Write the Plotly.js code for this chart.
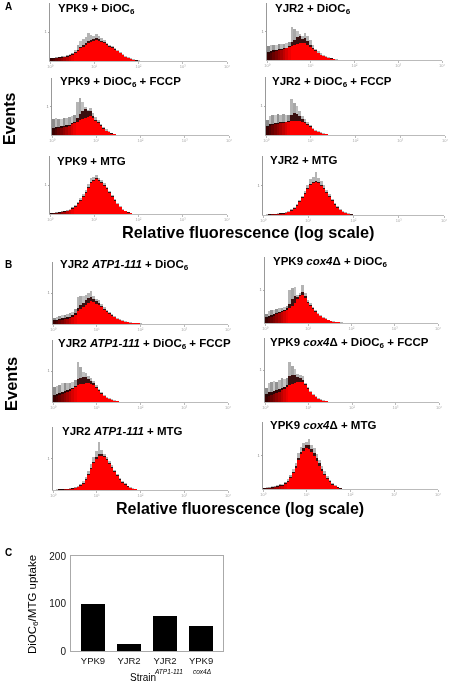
<!DOCTYPE html>
<html>
<head>
<meta charset="utf-8">
<script src="https://cdn.plot.ly/plotly-3.0.1.min.js"></script>
<style>html,body{margin:0;padding:0;background:#fff}#chart{width:454px;height:683px;filter:blur(0.45px)}</style>
</head>
<body>
<div id="chart"></div>
<script>
// ---------- Data: histogram heights per fluorescence bin ----------
const binWidth = 0.06; // decades
const a1Gray=[3,3,4,4,5,5,6,7,8,11,16,20,22,24,28,26,25,27,25,23,21,18,16,15,13,11,9,7,5,4,3,2,1,1,.5];
const a1Dark=[3,3,3,4,4,4,5,6,7,9,11,14,16,18,20,21,22,23,22,20,19,17,15,14,12,10.5,8.5,6.5,4.5,3,2,1.5,1,.5];
const a1Red=[2,2,3,3,3,4,4,5,6,8,10,13,14,16,18,19,20,21,20,19,18,16,14,13,11,10,8,6,4,3,2,1,.5];
const a2Gray=[14,15,15,15,16,16,16,17,18,33,31,29,26,24,27,24,20,15,11,9,7,5,4,3,2,1,1,.5];
const a2Dark=[8,9,10,10,11,11,12,12,14,18,20,23,24,21,22,19,15,12,10,7.5,5.5,4.5,3.5,2.5,2,1,.5];
const a2Red=[6,7,8,9,10,10,11,12,13,14,15,16,17,17,17,15,13,11,9,7,5,4,3,2,1.5,1,.5];
const a3Gray=[16,17,16,16,17,17,18,19,20,33,37,33,28,25,27,22,18,15,11,8,6,4,2,1,.5];
const a3Dark=[7,8,8,9,9,10,10,12,13,17,21,24,26,24,24,19,15,13,10,7,4.5,3,2,1,.5];
const a3Red=[5,6,7,7,8,8,9,11,12,13,15,16,17,18,19,17,14,12,9,6,4,3,1.5,1,.5];
const a4Gray=[15,19,20,20,21,20,21,20,20,36,32,29,24,19,16,13,10,7,5,4,3,2,1,.5];
const a4Dark=[9,11,11,12,12,13,13,13,14,20,22,21,19,16,13,11,9,6,4,3,2,1.5,1,.5];
const a4Red=[8,9,10,11,11,12,12,13,13,14,14,14,14,13,12,10,8,6,4,3,2,1.5,1,.5];
const a5Gray=[1,1.5,2,2,3,3,4,5,7,9,12,16,20,24,30,36,37,39,36,34,31,27,23,19,15,11,8,5,3,2,1,.5];
const a5Dark=[1,1,1.5,2,2.5,3,3.5,4.5,6,8,11,14,18,22,27,32,34,36,34,32,29,26,22,18,14,10.5,7.5,4.5,3,2,1,.5];
const a5Red=[.5,1,1,1.5,2,2,3,4,5,7,10,13,17,21,26,31,33,35,33,31,28,25,21,17,13,10,7,4,3,1.5,1,.5];
const a6Gray=[.5,1,1,1,1.5,2,2,2,3,4,6,8,11,15,19,24,30,36,38,43,37,34,30,25,21,16,12,9,6,4,3,2,1,.5];
const a6Dark=[.5,.5,1,1,1,1.5,2,2,2.5,3.5,5,7,10,14,18,22,27,31,33,34,33,30,27,23,19,15,11,8,5.5,3.5,2.5,1.5,1,.5];
const a6Red=[.3,.5,.5,1,1,1,1.5,1.5,2,3,4,6,9,13,17,21,26,30,32,33,32,29,26,22,18,14,10,7,5,3,2,1,.5];
const b1Gray=[6,7,8,9,9,10,11,12,15,27,28,28,29,31,33,28,25,24,20,17,14,12,10,8,6,5,4,3,2.5,2,1.5,1.5,1,1,.5,.5,.5,.3];
const b1Dark=[4,4,5,6,6,7,7,9,11,16,19,21,24,26,27,25,23,21,18,15,13,11,9,7,5.5,4.5,3.5,2.5,2,1.5,1,1,1,.5,.5,.3];
const b1Red=[3,3,4,4,5,5,6,7,9,13,15,17,19,21,23,22,20,19,17,14,12,10,8,7,5,4,3,2.5,2,1.5,1,1,1,.5,.5,.3,.3,.2];
const b2Gray=[9,12,13,13,14,15,15,16,17,33,35,36,28,30,38,30,23,20,16,13,10,8,6,5,3,2.5,2,1.5,1,1,.5,.5,.3];
const b2Dark=[6,7,8,9,10,11,12,13,15,19,24,27,26,28,31,27,21,18,15,12,9,7,5,4,3,2,1.5,1,1,.5,.5];
const b2Red=[4,5,6,7,9,10,11,12,13,15,17,20,24,27,28,25,20,17,14,11,9,7,5,4,3,2,1.5,1,1,.5,.5,.3,.2];
const b3Gray=[15,16,17,19,19,19,19,20,22,40,35,30,29,26,24,21,17,13,10,7,5,4,3,2,1,.5,.3];
const b3Dark=[7,8,9,10,11,12,13,14,16,23,24,25,25,23,21,19,15,12,9,6.5,4.5,3.5,2.5,1.5,1,.5];
const b3Red=[5,6,7,8,9,10,11,13,15,17,18,18,19,19,18,17,14,11,8,6,4,3,2,1.5,1,.5,.2];
const b4Gray=[14,19,20,21,20,22,24,23,24,40,36,33,28,27,26,19,15,11,8,6,4,3,2,1,.5,.3];
const b4Dark=[8,10,10,11,12,13,14,15,17,26,27,27,25,24,22,18,14,10,7.5,5.5,3.5,2.5,1.5,1,.5];
const b4Red=[5,6,7,8,9,10,12,13,15,17,18,19,20,20,20,17,13,10,7,5,3.5,2.5,1.5,1,.5,.2];
const b5Gray=[.5,1,1,1,1.5,1.5,2,2,3,4,6,9,13,19,26,33,39,48,40,36,33,29,25,20,16,12,9,7,4.5,3,2,1,.5];
const b5Dark=[.5,.5,1,1,1,1,1.5,2,2.5,3.5,5,7,11,16,22,28,33,36,36,34,31,27,23,19,15,11,8,6,4,2.5,1.5,1,.3];
const b5Red=[.3,.5,.5,.5,1,1,1,1.5,2,3,4,6,10,15,21,27,31,34,34,33,30,26,22,18,14,10,7.5,5.5,3.5,2.5,1.5,1,.3];
const b6Gray=[1,2,2,3,3,4,5,5,7,10,14,20,26,36,42,46,47,50,44,41,35,29,23,18,13,9,6,4,2,1,.5];
const b6Dark=[1,1.5,1.5,2,2.5,3,4,4.5,6,8,12,17,23,31,37,41,44,44,40,36,31,26,20,15.5,11,8,5,3.5,2,.8,.3];
const b6Red=[.5,1,1,1.5,2,2.5,3,3.5,5,7,11,16,21,29,35,38,41,40,37,33,28,23,18,14,10,7,4,3,1.5,.5,.2];

// Bar chart (panel C)
const strains=['YPK9','YJR2','YJR2 ATP1-111','YPK9 cox4Δ'];
const strainTicks=['YPK9','YJR2','YJR2','YPK9'];
const uptake=[100,15,74,52];

// ---------- Styles and layout helpers ----------
const W=454,H=683;
const LEFT_RED=['#3c0000','#500000','#680000','#7c0000','#920000','#a80000','#c00000','#d80000','#ee0000'];
const STREAK=['#8c8c8c','#bdbdbd','#989898','#c8c8c8','#909090','#b8b8b8','#a0a0a0','#c4c4c4','#949494','#b4b4b4','#a8a8a8','#c0c0c0'];
const fx=p=>p/W, fy=p=>1-p/H;
const panels=[
 {t:'YPK9 + DiOC<sub>6</sub>',tx:56,ty:9,x0:50,x1:227,base:61,top:3,g:a1Gray,d:a1Dark,r:a1Red},
 {t:'YJR2 + DiOC<sub>6</sub>',tx:273,ty:9,x0:267,x1:442,base:60,top:3,g:a2Gray,d:a2Dark,r:a2Red},
 {t:'YPK9 + DiOC<sub>6</sub> + FCCP',tx:58,ty:82,x0:52,x1:229,base:135,top:78,g:a3Gray,d:a3Dark,r:a3Red},
 {t:'YJR2 + DiOC<sub>6</sub> + FCCP',tx:270,ty:82,x0:266,x1:445,base:135,top:77,g:a4Gray,d:a4Dark,r:a4Red},
 {t:'YPK9 + MTG',tx:55,ty:161,x0:50,x1:227,base:214,top:156,g:a5Gray,d:a5Dark,r:a5Red},
 {t:'YJR2 + MTG',tx:268,ty:160,x0:263,x1:444,base:215,top:156,g:a6Gray,d:a6Dark,r:a6Red},
 {t:'YJR2 <i>ATP1-111</i> + DiOC<sub>6</sub>',tx:58,ty:265,x0:53,x1:228,base:324,top:262,g:b1Gray,d:b1Dark,r:b1Red},
 {t:'YPK9 <i>cox4</i>Δ + DiOC<sub>6</sub>',tx:271,ty:262,x0:265,x1:438,base:323,top:257,g:b2Gray,d:b2Dark,r:b2Red},
 {t:'YJR2 <i>ATP1-111</i> + DiOC<sub>6</sub> + FCCP',tx:56,ty:344,x0:53,x1:228,base:402,top:340,g:b3Gray,d:b3Dark,r:b3Red},
 {t:'YPK9 <i>cox4</i>Δ + DiOC<sub>6</sub> + FCCP',tx:268,ty:343,x0:265,x1:439,base:402,top:338,g:b4Gray,d:b4Dark,r:b4Red},
 {t:'YJR2 <i>ATP1-111</i> + MTG',tx:60,ty:431,x0:53,x1:228,base:490,top:427,g:b5Gray,d:b5Dark,r:b5Red},
 {t:'YPK9 <i>cox4</i>Δ + MTG',tx:268,ty:425,x0:263,x1:438,base:489,top:422,g:b6Gray,d:b6Dark,r:b6Red}
];
const FONT='"Liberation Sans", Arial, sans-serif';
const traces=[], annotations=[];
const layout={width:W,height:H,margin:{l:0,r:0,t:0,b:0},paper_bgcolor:'#fff',plot_bgcolor:'rgba(0,0,0,0)',
  showlegend:false,barmode:'overlay',bargap:0,font:{family:FONT,color:'#000'}};

panels.forEach((p,i)=>{
  const n=i+1, xa='x'+n, ya='y'+n;
  const mk=(vals,color,name)=>({type:'bar',x0:binWidth/2,dx:binWidth,y:vals,xaxis:xa,yaxis:ya,name:name,
     marker:{color:color,line:{width:0}},width:binWidth,hoverinfo:'skip'});
  traces.push(mk(p.g,p.g.map((_,j)=>j<STREAK.length?STREAK[j]:'#b4b4b4'),'all'));
  traces.push(mk(p.d,p.d.map((_,j)=>j<LEFT_RED.length?'#2a0505':'#3a1010'),'gate'));
  traces.push(mk(p.r,p.r.map((_,j)=>j<LEFT_RED.length?LEFT_RED[j]:'#ff0000'),'stained'));
  layout['xaxis'+n]={domain:[fx(p.x0),fx(p.x1)],range:[0,4],anchor:ya,showgrid:false,zeroline:false,
     showline:true,linecolor:'#bbbbbb',linewidth:1,ticks:'outside',ticklen:1.5,tickwidth:1,tickcolor:'#bbbbbb',
     tickmode:'array',tickvals:[0,1,2,3,4],ticktext:['10⁰','10¹','10²','10³','10⁴'],
     tickfont:{size:4,color:'#aaa'},fixedrange:true};
  layout['yaxis'+n]={domain:[fy(p.base),fy(p.top)],range:[0,p.base-p.top],anchor:xa,showgrid:false,zeroline:false,
     showline:true,linecolor:'#999999',linewidth:1,ticks:'outside',ticklen:1.5,tickwidth:1,tickcolor:'#aaaaaa',
     tickmode:'array',tickvals:[(p.base-p.top)/2],ticktext:['1'],tickfont:{size:4,color:'#888'},fixedrange:true};
  annotations.push({xref:'paper',yref:'paper',x:fx(p.tx),y:fy(p.ty),xanchor:'left',yanchor:'middle',showarrow:false,
     text:'<b>'+p.t+'</b>',font:{size:11.5,family:FONT,color:'#000'}});
});

// Panel C bar chart
traces.push({type:'bar',x:[0,1,2,3],y:uptake,xaxis:'x13',yaxis:'y13',width:0.667,text:strains,hoverinfo:'y+text',textposition:'none',
  marker:{color:'#000000',line:{width:0}}});
layout.xaxis13={domain:[fx(71),fx(223)],range:[-0.61,3.61],anchor:'y13',showgrid:false,zeroline:false,showline:true,mirror:true,
  linecolor:'#aaaaaa',linewidth:1,ticks:'',tickmode:'array',tickvals:[0,1,2,3],ticktext:strainTicks,ticklabelstandoff:1,
  tickfont:{size:9.5,family:FONT,color:'#111'},fixedrange:true};
layout.yaxis13={domain:[fy(651),fy(556)],range:[0,200],anchor:'x13',showgrid:false,zeroline:false,showline:true,mirror:true,
  linecolor:'#aaaaaa',linewidth:1,ticks:'',tickmode:'array',tickvals:[0,100,200],ticktext:['0','100','200'],ticklabelstandoff:2,
  tickfont:{size:10,family:FONT,color:'#111'},fixedrange:true};

function note(x,y,text,size,extra){
  annotations.push(Object.assign({xref:'paper',yref:'paper',x:fx(x),y:fy(y),xanchor:'center',yanchor:'middle',showarrow:false,
    text:text,font:{size:size,family:FONT,color:'#000'}},extra||{}));
}
note(8,7,'<b>A</b>',10);
note(8,265,'<b>B</b>',10);
note(8,552,'<b>C</b>',10);
note(10,119,'<b>Events</b>',16,{textangle:-90});
note(11,384,'<b>Events</b>',16.5,{textangle:-90});
note(248,232,'<b>Relative fluorescence (log scale)</b>',16.3);
note(240.5,508,'<b>Relative fluorescence (log scale)</b>',16);
note(33,605,'DiOC<sub>6</sub>/MTG uptake',11.5,{textangle:-90});
note(143,677.5,'Strain',10);
note(168,671,'<i>ATP1-111</i>',6.5);
note(201.5,671,'<i>cox4Δ</i>',6.5);

layout.annotations=annotations;
Plotly.newPlot('chart',traces,layout,{displayModeBar:false,staticPlot:true});
</script>
</body>
</html>
